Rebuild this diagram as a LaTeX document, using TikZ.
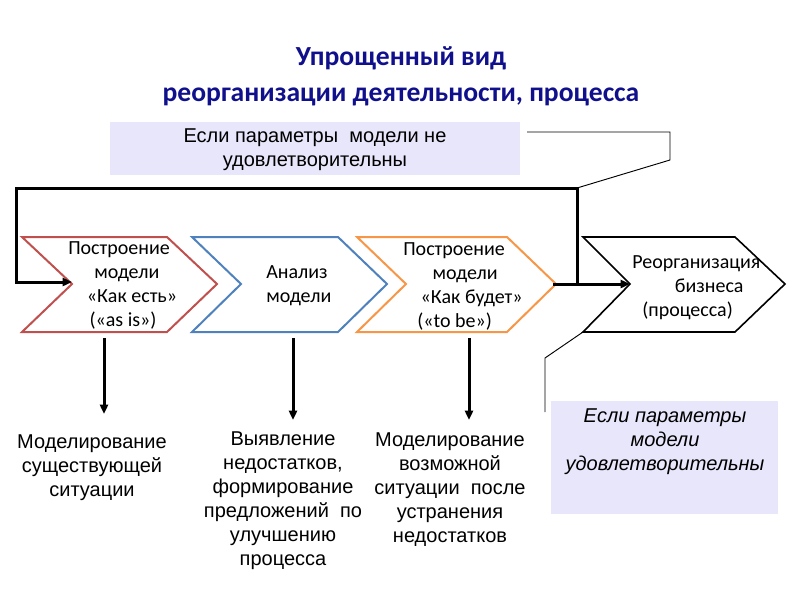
\documentclass[tikz,border=0pt]{standalone}
\usepackage{fontspec}
\setmainfont{Liberation Sans}
\newfontfamily\calibri{Carlito}
\usetikzlibrary{arrows.meta}
\definecolor{navy}{RGB}{16,16,140}
\definecolor{lav}{RGB}{232,230,250}
\definecolor{cred}{RGB}{192,80,77}
\definecolor{cblue}{RGB}{79,129,189}
\definecolor{corange}{RGB}{247,150,70}
\begin{document}
\begin{tikzpicture}[x=0.75pt,y=-0.75pt,
  chev/.style={line width=1.5pt,line join=miter},
  loopline/.style={line width=2.25pt,line join=miter},
  arr/.style={line width=2.25pt,-{Triangle[length=7pt,width=6pt]}},
  callline/.style={line width=0.7pt},
  ctext/.style={font=\calibri\fontsize{15}{18}\selectfont,align=left,inner sep=0pt,anchor=west},
  btext/.style={font=\fontsize{15}{18}\selectfont,align=center,inner sep=0pt},
  callbox/.style={fill=lav,draw=none,inner sep=0pt}]
\useasboundingbox (0,0) rectangle (800,600);
% title
\node[font=\calibri\bfseries\fontsize{20.7}{27}\selectfont,text=navy,align=center,inner sep=0pt] (title) at (401,76) {Упрощенный вид\\реорганизации деятельности, процесса};
% top callout
\node[callbox,minimum width=410*0.75pt,minimum height=53*0.75pt,anchor=north west] (topbox) at (110,122) {};
\node[btext] (toptext) at (315,150) {Если параметры\ \ модели не\\удовлетворительны};
% chevrons
\draw[chev,cred] (22,237) -- (167,237) -- (217,284) -- (167,332) -- (22,332) -- (72,284) -- cycle;
\draw[chev,cblue] (192,237) -- (338,237) -- (387,284) -- (338,332) -- (192,332) -- (241,284) -- cycle;
\draw[chev,corange] (357,237) -- (507,237) -- (556,284) -- (507,332) -- (357,332) -- (406,284) -- cycle;
\draw[line width=1.2pt,line join=miter] (583,237) -- (735,237) -- (785,284) -- (735,332) -- (583,332) -- (630,284) -- cycle;
% chevron texts
\node[ctext] (t1) at (68,285) {Построение\\\hspace*{19.5pt}модели\\\hspace*{14pt}«Как есть»\\\hspace*{16pt}(«as is»)};
\node[ctext] (t2) at (266,286) {Анализ\\модели};
\node[ctext] (t3) at (403,286) {Построение\\\hspace*{22pt}модели\\\hspace*{13pt}«Как будет»\\\hspace*{10.5pt}(«to be»)};
\node[ctext] (t4) at (632,288) {Реорганизация\\\hspace*{32pt}бизнеса\\\hspace*{7.5pt}(процесса)};
% loop
\coordinate (lr) at (577,284);
\coordinate (ltr) at (577,188);
\coordinate (ltl) at (16,188);
\coordinate (lbl) at (16,282);
\coordinate (in1) at (72,282);
\coordinate (out3) at (553,284);
\coordinate (in4) at (630,284);
\draw[loopline] (lr) -- (ltr) -- (ltl) -- (lbl);
\draw[arr] ([xshift=-0.5pt]lbl) -- (in1);
\draw[arr] (out3) -- (in4);
% callout pointer top
\coordinate (p1) at (527,132);
\coordinate (p2) at (670,132);
\coordinate (p3) at (670,160);
\draw[callline] (p1) -- (p2) -- (p3) -- (ltr);
% down arrows
\coordinate (a1) at (104,338); \coordinate (d1) at (104,414);
\coordinate (a2) at (293,338); \coordinate (d2) at (293,420);
\coordinate (a3) at (469,338); \coordinate (d3) at (469,420);
\draw[arr] (a1) -- (d1);
\draw[arr] (a2) -- (d2);
\draw[arr] (a3) -- (d3);
% bottom texts
\node[btext] (b1) at (92,468) {Моделирование\\существующей\\ситуации};
\node[btext] (b2) at (283,501) {Выявление\\недостатков,\\формирование\\предложений\ \ по\\улучшению\\процесса};
\node[btext] (b3) at (450,490) {Моделирование\\возможной\\ситуации\ \ после\\устранения\\недостатков};
% bottom-right callout
\node[callbox,minimum width=227*0.75pt,minimum height=113*0.75pt,anchor=north west] (brbox) at (551,401) {};
\node[btext,font=\itshape\fontsize{15}{18}\selectfont] (brtext) at (665,442) {Если параметры\\модели\\удовлетворительны};
\coordinate (q1) at (583,332);
\coordinate (q2) at (545,358);
\coordinate (q3) at (545,412);
\draw[callline] (q1) -- (q2) -- (q3);
\end{tikzpicture}
\end{document}
